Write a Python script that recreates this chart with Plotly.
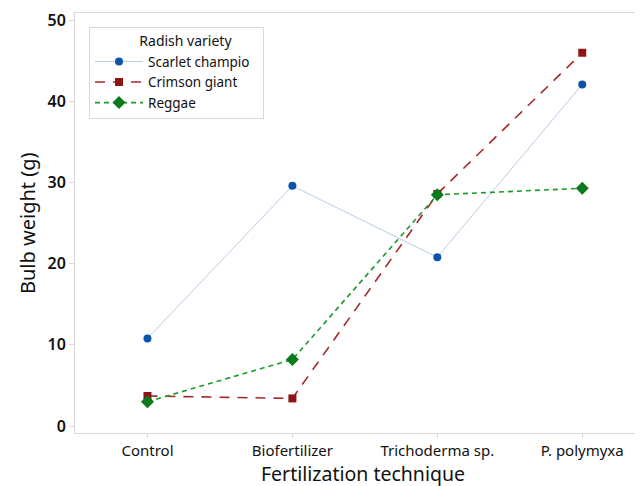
import plotly.graph_objects as go

categories = ["Control", "Biofertilizer", "Trichoderma sp.", "P. polymyxa"]
scarlet = [10.8, 29.6, 20.8, 42.1]
crimson = [3.7, 3.4, 28.6, 46.0]
reggae = [3.0, 8.2, 28.5, 29.3]
y_ticks = [0, 10, 20, 30, 40, 50]

FONT = "Noto Sans"
TXT = "#111111"

fig = go.Figure()
fig.add_trace(go.Scatter(
    x=categories, y=scarlet, name="Scarlet champio", mode="lines+markers",
    line=dict(color="#b7cde6", width=1),
    marker=dict(symbol="circle", size=8, color="#0a55a8"),
))
fig.add_trace(go.Scatter(
    x=categories, y=crimson, name="Crimson giant", mode="lines+markers",
    line=dict(color="#a52a2a", width=1.6, dash="10px,8px"),
    marker=dict(symbol="square", size=8, color="#8e1515"),
))
fig.add_trace(go.Scatter(
    x=categories, y=reggae, name="Reggae", mode="lines+markers",
    line=dict(color="#1a9a2a", width=1.6, dash="5px,4px"),
    marker=dict(symbol="diamond", size=10, color="#0b7a1c"),
))

OFF = 8  # page body margin
W, H = 643 - OFF, 486 - OFF
W0, W1, H0, H1 = 75 - OFF, 643 - OFF, 13 - OFF, 433 - OFF  # plot area in figure pixels
PW, PH = W1 - W0, H1 - H0

fig.update_layout(
    width=W, height=H,
    margin=dict(l=W0, r=W - W1, t=H0, b=H - H1),
    paper_bgcolor="white", plot_bgcolor="white",
    font=dict(family=FONT, color=TXT, size=14),
    legend=dict(
        x=(89 - OFF - W0) / PW, y=(H1 - (27 - OFF)) / PH, xanchor="left", yanchor="top",
        bordercolor="#d9d9d9", borderwidth=1, bgcolor="white",
        itemwidth=48,
        title=dict(text="\u00a0" * 13 + "Radish variety" + "\u00a0" * 8,
                   font=dict(size=14, color=TXT, family=FONT), side="top"),
        font=dict(size=13.5, color=TXT, family=FONT),
        tracegroupgap=0,
    ),
    xaxis=dict(
        type="category", categoryorder="array", categoryarray=categories,
        range=[-0.5, 3.419], automargin=False,
        showgrid=False, zeroline=False,
        showline=True, linecolor="#d9d9d9", linewidth=1, mirror=True,
        ticks="outside", ticklen=4, tickcolor="#d9d9d9",
        tickfont=dict(size=15, color=TXT),
    ),
    yaxis=dict(
        range=[-0.86, 50.9], automargin=False,
        tickvals=y_ticks,
        showgrid=False, zeroline=False,
        showline=True, linecolor="#d9d9d9", linewidth=1, mirror=True,
        ticks="outside", ticklen=5, tickcolor="#d9d9d9",
        tickfont=dict(size=16, color=TXT, weight=600),
    ),
    annotations=[
        dict(text="Fertilization technique", xref="paper", yref="paper",
             x=(363 - OFF - W0) / PW, y=(H1 - (473 - OFF)) / PH,
             xanchor="center", yanchor="middle",
             showarrow=False, font=dict(size=19.5, color=TXT)),
        dict(text="Bulb weight (g)", xref="paper", yref="paper",
             x=(27 - OFF - W0) / PW, y=0.5, xanchor="center", yanchor="middle",
             textangle=-90, showarrow=False, font=dict(size=20, color=TXT)),
    ],
)

fig.write_html("out.html")
